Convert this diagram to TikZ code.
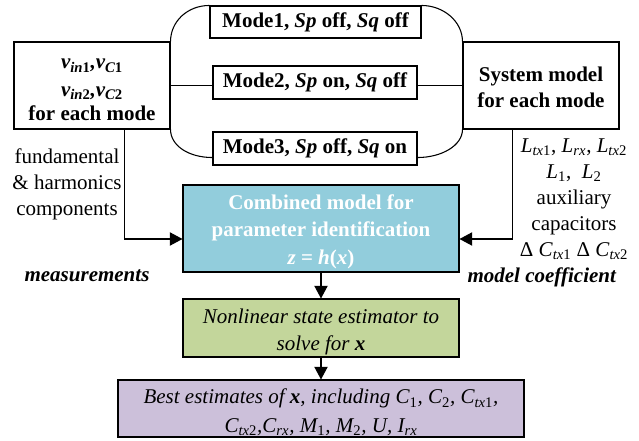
\documentclass[tikz,border=0pt]{standalone}
\usepackage{fontspec}
\setmainfont{Liberation Serif}
\usetikzlibrary{arrows.meta,calc}
\definecolor{cblue}{RGB}{146,205,220}
\definecolor{cgreen}{RGB}{195,214,155}
\definecolor{cpurple}{RGB}{204,192,218}
\newcommand\sbs[1]{\textsubscript{#1}}
\begin{document}
\begin{tikzpicture}[x=0.75pt,y=-0.75pt,
  font=\fontsize{15.75}{19.5}\selectfont,
  box/.style={draw, line width=0.8pt, inner sep=0pt, align=center},
  conn/.style={line width=0.8pt},
  arr/.style={line width=0.8pt, -{Triangle[length=9.5pt,width=10pt]}},
  txt/.style={align=center, inner sep=0pt}]
\useasboundingbox (0,0) rectangle (639,441);
% boxes
\node[box, minimum width=117pt, minimum height=65.25pt,
  label={[txt,yshift=-3.5pt]center:{\bfseries\itshape v\sbs{in\upshape 1},v\sbs{C\upshape 1}\\[1pt]
   \bfseries\itshape v\sbs{in\upshape 2},v\sbs{C\upshape 2}\\[-1pt]
   \bfseries for each mode}}] (lb) at (92,85.5) {};
\node[box, minimum width=158.25pt, minimum height=24pt] (m1) at (315.5,22)
  {\bfseries Mode1, \textit{Sp} off, \textit{Sq} off};
\node[box, minimum width=153pt, minimum height=24.75pt] (m2) at (315,82.5)
  {\bfseries Mode2, \textit{Sp} on, \textit{Sq} off};
\node[box, minimum width=153pt, minimum height=24.75pt] (m3) at (315,148.5)
  {\bfseries Mode3, \textit{Sp} off, \textit{Sq} on};
\node[box, minimum width=117pt, minimum height=65.25pt,
  label={[txt,yshift=-1.5pt]center:{\bfseries System model\\ \bfseries for each mode}}] (rb) at (541,85.5) {};
\node[box, fill=cblue, minimum width=207pt, minimum height=65.25pt,
  label={[txt,yshift=-2.5pt,text=white,font=\fontsize{15.75}{20.5}\selectfont\bfseries]center:{Combined model for\\parameter identification\\\textit{z} = \textit{h}(\textit{x})}}] (cm) at (321,228.5) {};
\node[box, fill=cgreen, minimum width=207pt, minimum height=43.5pt,
  label={[txt,yshift=-3pt,font=\fontsize{15.75}{20.5}\selectfont\itshape]center:{Nonlinear state estimator to\\solve for \textbf{x}}}] (ne) at (321,328) {};
\node[box, fill=cpurple, minimum width=304.5pt, minimum height=42.75pt,
  label={[txt,yshift=-3pt,font=\fontsize{15.75}{21.5}\selectfont\itshape]center:{Best estimates of \textbf{x}, including C\sbs{\upshape 1}, C\sbs{\upshape 2}, C\sbs{tx\upshape 1},\\
   C\sbs{tx\upshape 2},C\sbs{rx}, M\sbs{\upshape 1}, M\sbs{\upshape 2}, U, I\sbs{rx}}}] (be) at (321,408.5) {};
% labels
\node[txt] (fh) at (67,184) {fundamental\\\& harmonics\\components};
\node[txt] (mc) at (574,199)
  {\textit{L}\sbs{\textit{tx}1}, \textit{L}\sbs{\textit{rx}}, \textit{L}\sbs{\textit{tx}2}\\
   \textit{L}\sbs{1}, \ \textit{L}\sbs{2}\\
   auxiliary\\capacitors\\
   Δ \textit{C}\sbs{\textit{tx}1} Δ \textit{C}\sbs{\textit{tx}2}};
\node[txt] (meas) at (87,276) {\textbf{\textit{measurements}}};
\node[txt] (mcoef) at (542,277) {\textbf{\textit{model coefficient}}};
% brackets
\draw[conn] (m1.north west) .. controls +(-22,0) and +(0,-20) .. (lb.north east);
\draw[conn] (lb.south east) .. controls +(0,16) and +(-24,0) .. ($(m3.south west)+(0,-8)$);
\draw[conn] (m1.north east) .. controls +(22,0) and +(0,-20) .. (rb.north west);
\draw[conn] (rb.south west) .. controls +(0,16) and +(24,0) .. ($(m3.south east)+(0,-8)$);
\draw[conn] (lb.east) -- (lb.east -| m2.west);
\draw[conn] (rb.west -| m2.east) -- (rb.west);
% arrows
\draw[arr] ($(lb.south west)+(111,0)$) |- ($(cm.west)+(0,10.5)$);
\draw[arr] ($(rb.south west)+(50,0)$) |- ($(cm.east)+(0,10.5)$);
\draw[arr] (cm.south) -- (ne.north);
\draw[arr] (ne.south) -- (be.north);
\end{tikzpicture}
\end{document}
